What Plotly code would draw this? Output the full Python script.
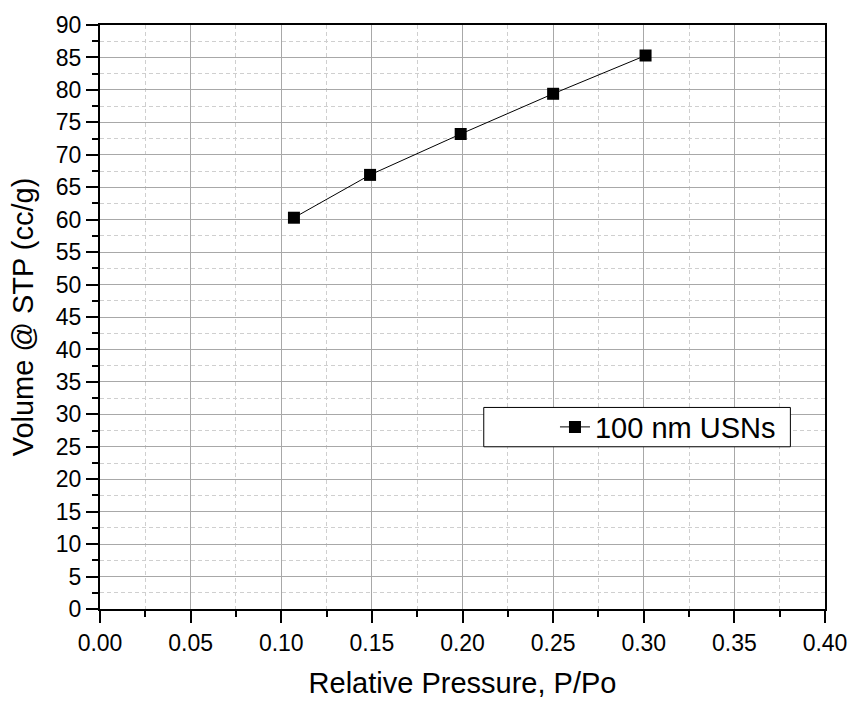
import plotly.graph_objects as go

pressure = [0.107, 0.149, 0.199, 0.250, 0.301]
volume = [60.3, 66.9, 73.2, 79.4, 85.3]
series_name = "100 nm USNs"
x_title = "Relative Pressure, P/Po"
y_title = "Volume @ STP (cc/g)"

FONT = "Arial, Liberation Sans, Helvetica, sans-serif"

fig = go.Figure()
fig.add_trace(go.Scatter(
    x=pressure, y=volume, name=series_name, mode="lines+markers",
    line=dict(color="black", width=1),
    marker=dict(symbol="square", size=12, color="black"),
))

axis_common = dict(
    showline=True, linecolor="black", linewidth=2, mirror=True,
    ticks="outside", ticklen=12, tickwidth=2, tickcolor="black",
    showgrid=True, gridcolor="#a8a8a8", gridwidth=1,
    zeroline=False,
    tickfont=dict(family=FONT, size=23, color="black"),
)

fig.update_xaxes(
    range=[0, 0.40], tickvals=[0, 0.05, 0.10, 0.15, 0.20, 0.25, 0.30, 0.35, 0.40],
    tickformat=".2f",
    minor=dict(dtick=0.025, tick0=0, ticks="outside", ticklen=6, tickwidth=2, tickcolor="black",
               showgrid=True, gridcolor="#cfcfcf", griddash="4px,3px", gridwidth=1),
    title=dict(text=x_title, font=dict(family=FONT, size=29, color="black"), standoff=18),
    **axis_common,
)
fig.update_yaxes(
    range=[0, 90], dtick=5, tick0=0,
    minor=dict(dtick=2.5, tick0=0, ticks="outside", ticklen=6, tickwidth=2, tickcolor="black",
               showgrid=True, gridcolor="#cfcfcf", griddash="4px,3px", gridwidth=1),
    title=dict(text=y_title, font=dict(family=FONT, size=29, color="black"), standoff=14),
    **axis_common,
)

# legend frame
x0p = (488 - 100) / 733
x1p = (798 - 100) / 733
y1p = (613 - 408) / 594
y0p = (613 - 448) / 594
fig.add_shape(type="rect", xref="paper", yref="paper", x0=x0p, x1=x1p, y0=y0p, y1=y1p,
              line=dict(color="black", width=1), fillcolor="white", layer="above")

fig.update_layout(
    width=859, height=706,
    margin=dict(l=100, r=26, t=19, b=93),
    plot_bgcolor="rgba(0,0,0,0)", paper_bgcolor="white",
    showlegend=True,
    legend=dict(x=(560 - 100) / 733, y=(613 - 402) / 594, xanchor="left", yanchor="top",
                bgcolor="rgba(0,0,0,0)", borderwidth=0,
                font=dict(family=FONT, size=29, color="black")),
    font=dict(family=FONT, color="black"),
)

fig.write_html("out.html")
